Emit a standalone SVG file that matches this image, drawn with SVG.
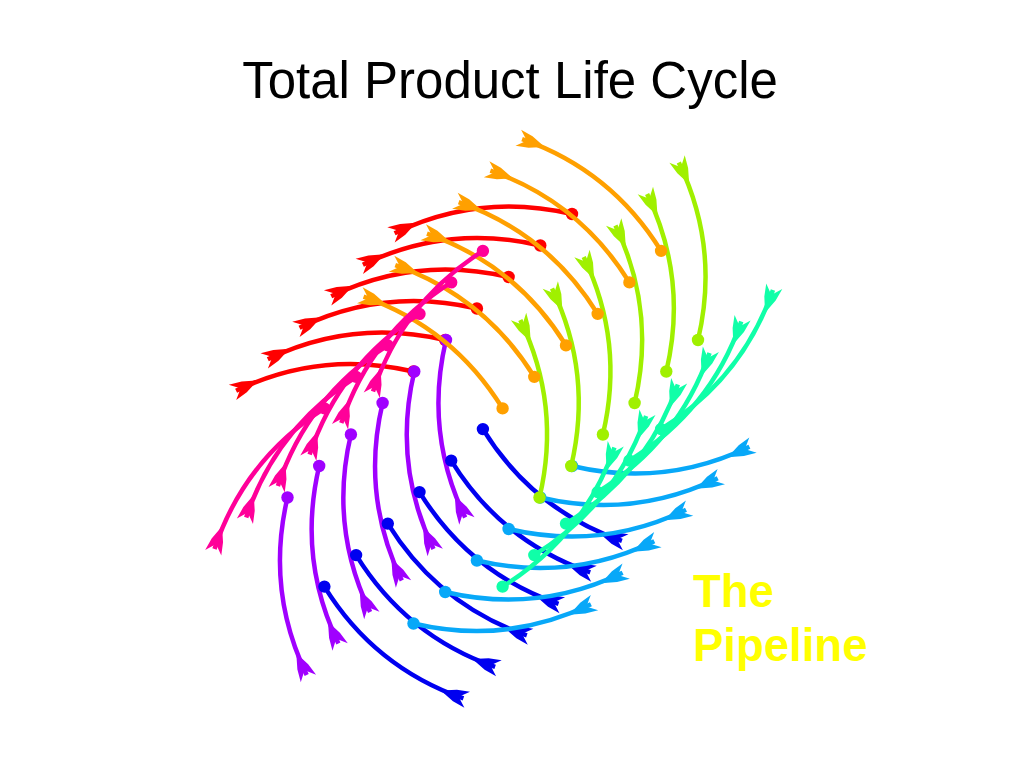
<svg xmlns="http://www.w3.org/2000/svg" xmlns:xlink="http://www.w3.org/1999/xlink" width="1024" height="768" viewBox="0 0 1024 768">
<style>
.title { font-family: "Liberation Sans", Arial, sans-serif; font-size: 51px; fill: #000000; }
.pipe { font-family: "Liberation Sans", Arial, sans-serif; font-size: 45.5px; font-weight: bold; fill: #FFFF00; }
.fam { stroke-width: 4.5; }
</style>
<defs>
  <path id="head" d="M4,-8.5 L-4,-1 L-4,1 L4,8.5 L-9,6 L-24,0 L-9,-6 Z"/>
  <marker id="mk-red" viewBox="-30 -12 36 24" refX="0" refY="0" markerWidth="36" markerHeight="24" markerUnits="userSpaceOnUse" orient="auto"><use href="#head" fill="#FF0000"/></marker>
  <marker id="mk-orange" viewBox="-30 -12 36 24" refX="0" refY="0" markerWidth="36" markerHeight="24" markerUnits="userSpaceOnUse" orient="auto"><use href="#head" fill="#FFA000"/></marker>
  <marker id="mk-green" viewBox="-30 -12 36 24" refX="0" refY="0" markerWidth="36" markerHeight="24" markerUnits="userSpaceOnUse" orient="auto"><use href="#head" fill="#A0F000"/></marker>
  <marker id="mk-aqua" viewBox="-30 -12 36 24" refX="0" refY="0" markerWidth="36" markerHeight="24" markerUnits="userSpaceOnUse" orient="auto"><use href="#head" fill="#10FFA8"/></marker>
  <marker id="mk-sky" viewBox="-30 -12 36 24" refX="0" refY="0" markerWidth="36" markerHeight="24" markerUnits="userSpaceOnUse" orient="auto"><use href="#head" fill="#08A8F8"/></marker>
  <marker id="mk-blue" viewBox="-30 -12 36 24" refX="0" refY="0" markerWidth="36" markerHeight="24" markerUnits="userSpaceOnUse" orient="auto"><use href="#head" fill="#0000F0"/></marker>
  <marker id="mk-purple" viewBox="-30 -12 36 24" refX="0" refY="0" markerWidth="36" markerHeight="24" markerUnits="userSpaceOnUse" orient="auto"><use href="#head" fill="#A000FF"/></marker>
  <marker id="mk-magenta" viewBox="-30 -12 36 24" refX="0" refY="0" markerWidth="36" markerHeight="24" markerUnits="userSpaceOnUse" orient="auto"><use href="#head" fill="#FF0099"/></marker>
  <g id="arc"><path d="M698,340 Q719.8,247.7 678.8,162.6" fill="none"/><circle cx="698" cy="340" r="6.2" stroke="none"/></g>
</defs>
<rect width="1024" height="768" fill="#FFFFFF"/>
<text class="title" x="510" y="98" text-anchor="middle">Total Product Life Cycle</text>
<g id="connectors">
<g id="family-red" class="fam" stroke="#FF0000" fill="#FF0000" marker-end="url(#mk-red)">
  <use href="#arc" transform="translate(0,0) rotate(270,572,340)"/>
  <use href="#arc" transform="translate(-31.7,31.5) rotate(270,572,340)"/>
  <use href="#arc" transform="translate(-63.4,63) rotate(270,572,340)"/>
  <use href="#arc" transform="translate(-95.1,94.5) rotate(270,572,340)"/>
  <use href="#arc" transform="translate(-126.8,126) rotate(270,572,340)"/>
  <use href="#arc" transform="translate(-158.5,157.5) rotate(270,572,340)"/>
</g>
<g id="family-purple" class="fam" stroke="#A000FF" fill="#A000FF" marker-end="url(#mk-purple)">
  <use href="#arc" transform="translate(0,0) rotate(180,572,340)"/>
  <use href="#arc" transform="translate(-31.7,31.5) rotate(180,572,340)"/>
  <use href="#arc" transform="translate(-63.4,63) rotate(180,572,340)"/>
  <use href="#arc" transform="translate(-95.1,94.5) rotate(180,572,340)"/>
  <use href="#arc" transform="translate(-126.8,126) rotate(180,572,340)"/>
  <use href="#arc" transform="translate(-158.5,157.5) rotate(180,572,340)"/>
</g>
<g id="family-blue" class="fam" stroke="#0000F0" fill="#0000F0" marker-end="url(#mk-blue)">
  <use href="#arc" transform="translate(0,0) rotate(135,572,340)"/>
  <use href="#arc" transform="translate(-31.7,31.5) rotate(135,572,340)"/>
  <use href="#arc" transform="translate(-63.4,63) rotate(135,572,340)"/>
  <use href="#arc" transform="translate(-95.1,94.5) rotate(135,572,340)"/>
  <use href="#arc" transform="translate(-126.8,126) rotate(135,572,340)"/>
  <use href="#arc" transform="translate(-158.5,157.5) rotate(135,572,340)"/>
</g>
<g id="family-sky" class="fam" stroke="#08A8F8" fill="#08A8F8" marker-end="url(#mk-sky)">
  <use href="#arc" transform="translate(0,0) rotate(90,572,340)"/>
  <use href="#arc" transform="translate(-31.7,31.5) rotate(90,572,340)"/>
  <use href="#arc" transform="translate(-63.4,63) rotate(90,572,340)"/>
  <use href="#arc" transform="translate(-95.1,94.5) rotate(90,572,340)"/>
  <use href="#arc" transform="translate(-126.8,126) rotate(90,572,340)"/>
  <use href="#arc" transform="translate(-158.5,157.5) rotate(90,572,340)"/>
</g>
<g id="family-aqua" class="fam" stroke="#10FFA8" fill="#10FFA8" marker-end="url(#mk-aqua)">
  <use href="#arc" transform="translate(0,0) rotate(45,572,340)"/>
  <use href="#arc" transform="translate(-31.7,31.5) rotate(45,572,340)"/>
  <use href="#arc" transform="translate(-63.4,63) rotate(45,572,340)"/>
  <use href="#arc" transform="translate(-95.1,94.5) rotate(45,572,340)"/>
  <use href="#arc" transform="translate(-126.8,126) rotate(45,572,340)"/>
  <use href="#arc" transform="translate(-158.5,157.5) rotate(45,572,340)"/>
</g>
<g id="family-green" class="fam" stroke="#A0F000" fill="#A0F000" marker-end="url(#mk-green)">
  <use href="#arc" transform="translate(0,0)"/>
  <use href="#arc" transform="translate(-31.7,31.5)"/>
  <use href="#arc" transform="translate(-63.4,63)"/>
  <use href="#arc" transform="translate(-95.1,94.5)"/>
  <use href="#arc" transform="translate(-126.8,126)"/>
  <use href="#arc" transform="translate(-158.5,157.5)"/>
</g>
<g id="family-orange" class="fam" stroke="#FFA000" fill="#FFA000" marker-end="url(#mk-orange)">
  <use href="#arc" transform="translate(0,0) rotate(315,572,340)"/>
  <use href="#arc" transform="translate(-31.7,31.5) rotate(315,572,340)"/>
  <use href="#arc" transform="translate(-63.4,63) rotate(315,572,340)"/>
  <use href="#arc" transform="translate(-95.1,94.5) rotate(315,572,340)"/>
  <use href="#arc" transform="translate(-126.8,126) rotate(315,572,340)"/>
  <use href="#arc" transform="translate(-158.5,157.5) rotate(315,572,340)"/>
</g>
<g id="family-magenta" class="fam" stroke="#FF0099" fill="#FF0099" marker-end="url(#mk-magenta)">
  <use href="#arc" transform="translate(-158.5,157.5) rotate(225,572,340) rotate(-0.8,698,340)"/>
  <use href="#arc" transform="translate(-126.8,126) rotate(225,572,340) rotate(-0.8,698,340)"/>
  <use href="#arc" transform="translate(-95.1,94.5) rotate(225,572,340) rotate(-0.8,698,340)"/>
  <use href="#arc" transform="translate(-63.4,63) rotate(225,572,340) rotate(-0.8,698,340)"/>
  <use href="#arc" transform="translate(-31.7,31.5) rotate(225,572,340) rotate(-0.8,698,340)"/>
  <use href="#arc" transform="translate(0,0) rotate(225,572,340) rotate(-0.8,698,340)"/>
</g>
</g>
<g id="label-pipeline">
  <text class="pipe" x="693" y="607">The</text>
  <text class="pipe" x="693" y="661">Pipeline</text>
</g>
</svg>
